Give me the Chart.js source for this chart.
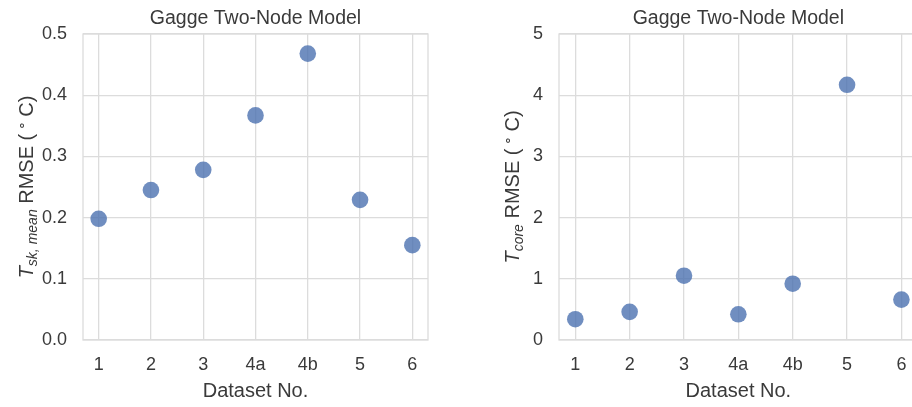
<!DOCTYPE html>
<html>
<head>
<meta charset="utf-8">
<script src="https://cdn.jsdelivr.net/npm/chart.js@4/dist/chart.umd.min.js"></script>
<style>
  html, body { margin: 0; padding: 0; background: #fff; overflow: hidden; }
  .panel { position: absolute; top: 0; height: 407px; }
</style>
</head>
<body>
<div class="panel" style="left:0;width:456px"><canvas id="skinChart" width="456" height="407"></canvas></div>
<div class="panel" style="left:456px;width:470px"><canvas id="coreChart" width="470" height="407"></canvas></div>
<script>
// Données
const datasetNames = ['1', '2', '3', '4a', '4b', '5', '6'];
const skinRmse = [0.198, 0.245, 0.278, 0.367, 0.468, 0.229, 0.155];
const coreRmse = [0.34, 0.46, 1.05, 0.42, 0.92, 4.17, 0.66];
const skinTicks = [0, 0.1, 0.2, 0.3, 0.4, 0.5];
const coreTicks = [0, 1, 2, 3, 4, 5];

const FONT = "'Liberation Sans', Arial, sans-serif";
const TEXT = '#3a3a3a';
const GRID = '#dcdcdc';
const DOT = 'rgba(76, 114, 176, 0.8)';

// Cadre, titre et libellé Y (avec indice) dessinés sur le canvas
const panelText = {
  id: 'panelText',
  beforeDatasetsDraw(chart, args, opts) {
    const a = chart.chartArea, ctx = chart.ctx;
    ctx.save();
    ctx.strokeStyle = GRID;
    ctx.lineWidth = 1.3;
    ctx.strokeRect(a.left, a.top, a.right - a.left, a.bottom - a.top);
    ctx.restore();
  },
  afterDraw(chart, args, opts) {
    const a = chart.chartArea, ctx = chart.ctx;
    ctx.save();
    ctx.fillStyle = TEXT;
    ctx.textBaseline = 'alphabetic';
    ctx.textAlign = 'center';
    ctx.font = '19.5px ' + FONT;
    ctx.fillText(opts.title, (a.left + a.right) / 2, 23.5);

    // libellé vertical : T + indice + reste
    const parts = [
      { t: 'T', f: 'italic 20px ' + FONT, dy: 0 },
      { t: opts.sub, f: 'italic 14px ' + FONT, dy: 4 },
      { t: ' RMSE (\u2009', f: '20px ' + FONT, dy: 0 },
      { t: '\u2218', f: '14px ' + FONT, dy: -7 },
      { t: '\u2009C)', f: '20px ' + FONT, dy: 0 }
    ];
    ctx.textAlign = 'left';
    let total = 0;
    parts.forEach(p => { ctx.font = p.f; p.w = ctx.measureText(p.t).width; total += p.w; });
    ctx.translate(a.left - opts.labelGap, (a.top + a.bottom) / 2);
    ctx.rotate(-Math.PI / 2);
    let x = -total / 2;
    parts.forEach(p => { ctx.font = p.f; ctx.fillText(p.t, x, p.dy); x += p.w; });
    ctx.restore();
  }
};

function makePanel(canvasId, values, yTicks, yLabel, plotLeft, padRight, sub, labelGap) {
  const ctx = document.getElementById(canvasId).getContext('2d');
  return new Chart(ctx, {
    type: 'scatter',
    data: {
      datasets: [{
        data: values.map((v, i) => ({ x: i, y: v })),
        backgroundColor: DOT,
        borderWidth: 0,
        pointRadius: 8.3,
        pointHoverRadius: 8.3
      }]
    },
    options: {
      responsive: false,
      animation: false,
      layout: { padding: { top: 34, right: padRight, bottom: 0, left: 0 } },
      plugins: {
        legend: { display: false },
        tooltip: { enabled: false },
        panelText: { title: 'Gagge Two-Node Model', sub: sub, labelGap: labelGap }
      },
      scales: {
        x: {
          type: 'linear',
          min: -0.3,
          max: 6.3,
          afterBuildTicks: axis => { axis.ticks = datasetNames.map((_, i) => ({ value: i })); },
          afterFit: axis => { axis.height = 67; },
          ticks: {
            callback: v => datasetNames[v],
            color: TEXT,
            font: { family: FONT, size: 18 },
            padding: 14,
            maxRotation: 0
          },
          grid: { color: GRID, lineWidth: 1.3, drawTicks: false },
          border: { display: false },
          title: {
            display: true,
            text: 'Dataset No.',
            color: TEXT,
            font: { family: FONT, size: 20 },
            padding: { top: 0, bottom: 4 }
          }
        },
        y: {
          min: yTicks[0],
          max: yTicks[yTicks.length - 1],
          afterBuildTicks: axis => { axis.ticks = yTicks.map(v => ({ value: v })); },
          afterFit: axis => { axis.width = plotLeft; },
          ticks: {
            callback: yLabel,
            color: TEXT,
            font: { family: FONT, size: 18 },
            padding: 16
          },
          grid: { color: GRID, lineWidth: 1.3, drawTicks: false },
          border: { display: false }
        }
      }
    },
    plugins: [panelText]
  });
}

makePanel('skinChart', skinRmse, skinTicks, v => v.toFixed(1), 83, 28, 'sk, mean', 50);
makePanel('coreChart', coreRmse, coreTicks, v => String(v), 103, 3, 'core', 40);
</script>
</body>
</html>
